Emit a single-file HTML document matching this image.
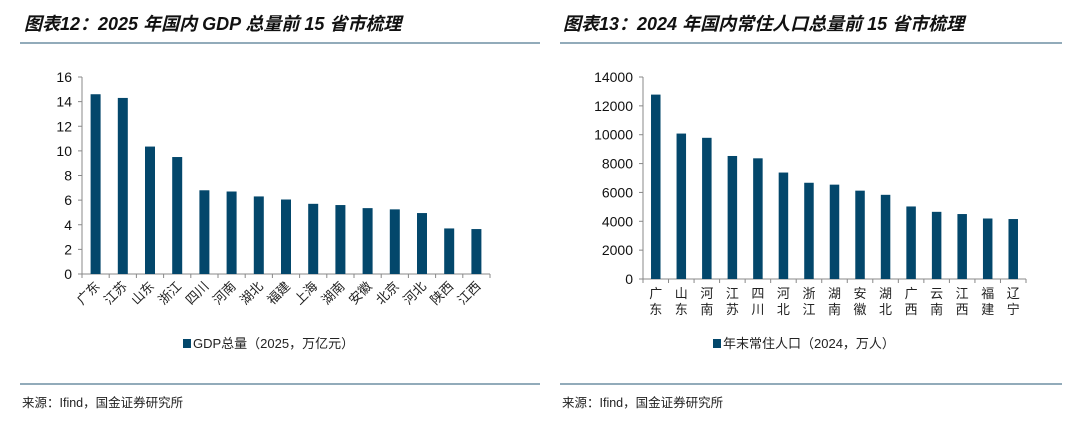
<!DOCTYPE html>
<html><head><meta charset="utf-8"><style>
body{margin:0;background:#fff;width:1080px;height:426px;overflow:hidden;font-family:"Liberation Sans","Noto Sans CJK SC",sans-serif}
</style></head><body>
<svg id="s" width="1080" height="426" xmlns="http://www.w3.org/2000/svg">
<text x="24" y="30" font-size="18" font-weight="bold" font-style="italic" fill="#111" font-family="Liberation Sans,Noto Sans CJK SC,sans-serif">图表12：2025 年国内 GDP 总量前 15 省市梳理</text>
<text x="563" y="30" font-size="18" font-weight="bold" font-style="italic" fill="#111" font-family="Liberation Sans,Noto Sans CJK SC,sans-serif">图表13：2024 年国内常住人口总量前 15 省市梳理</text>
<line x1="20" y1="43" x2="540" y2="43" stroke="#6f8fa3" stroke-width="1.5"/>
<line x1="560" y1="43" x2="1062" y2="43" stroke="#6f8fa3" stroke-width="1.5"/>
<line x1="20" y1="384" x2="540" y2="384" stroke="#6f8fa3" stroke-width="1.5"/>
<line x1="560" y1="384" x2="1062" y2="384" stroke="#6f8fa3" stroke-width="1.5"/>
<text x="22" y="407" font-size="12.5" fill="#222">来源：Ifind，国金证券研究所</text>
<text x="562" y="407" font-size="12.5" fill="#222">来源：Ifind，国金证券研究所</text>
<g id="L"></g><g id="R"></g>
</svg>
<script>
const gdpCats=["广东","江苏","山东","浙江","四川","河南","湖北","福建","上海","湖南","安徽","北京","河北","陕西","江西"];
const gdpVals=[14.6,14.3,10.35,9.5,6.8,6.7,6.3,6.05,5.7,5.6,5.35,5.25,4.95,3.7,3.65];
const gdpTicks=[0,2,4,6,8,10,12,14,16];
const popCats=["广东","山东","河南","江苏","四川","河北","浙江","湖南","安徽","湖北","广西","云南","江西","福建","辽宁"];
const popVals=[12780,10080,9785,8526,8364,7378,6670,6539,6123,5834,5027,4655,4502,4193,4156];
const popTicks=[0,2000,4000,6000,8000,10000,12000,14000];
const NS="http://www.w3.org/2000/svg";
function mk(p,t,a){const e=document.createElementNS(NS,t);for(const k in a)e.setAttribute(k,a[k]);p.appendChild(e);return e;}
function chart(g,cats,vals,ticks,o){
  const max=ticks[ticks.length-1];
  const y=v=>o.y0-(v/max)*(o.y0-o.y1);
  const bw=(o.x1-o.x0)/cats.length;
  const ax=mk(g,'line',{x1:o.x0,y1:o.y1,x2:o.x0,y2:o.y0,stroke:'#888'});
  
  const bx=mk(g,'line',{x1:o.x0,y1:o.y0,x2:o.x1,y2:o.y0,stroke:'#888'});
  
  ticks.forEach(t=>{
    const tk=mk(g,'line',{x1:o.x0-4,x2:o.x0,y1:y(t),y2:y(t),stroke:'#888'});
    
    const tl=mk(g,'text',{x:o.x0-10,y:y(t)+5,'text-anchor':'end','font-size':14,fill:'#111'});
    tl.textContent=t;
    
  });
  for(let i=0;i<=cats.length;i++){
    const tk=mk(g,'line',{x1:o.x0+i*bw,x2:o.x0+i*bw,y1:o.y0,y2:o.y0+4,stroke:'#888'});
    
  }
  cats.forEach((c,i)=>{
    const cx=o.x0+(i+0.5)*bw;
    const r=mk(g,'rect',{x:cx-o.bar/2,y:y(vals[i]),width:o.bar,height:o.y0-y(vals[i]),fill:'#03476b'});
    
    let t;
    if(o.rot){
      t=mk(g,'text',{x:cx+5,y:o.y0+13,'text-anchor':'end','font-size':13,fill:'#222',transform:`rotate(-45 ${cx+5} ${o.y0+13})`});
      t.textContent=c;
    }else{
      t=mk(g,'text',{x:cx,y:o.y0+19,'text-anchor':'middle','font-size':13,fill:'#222'});
      [...c].forEach((ch,k)=>{const sp=mk(t,'tspan',{x:cx,dy:k?16:0});sp.textContent=ch;});
    }
    
  });
  const lg=mk(g,'g',{});
  
  mk(lg,'rect',{x:o.lx,y:339,width:8,height:9,fill:'#03476b'});
  const lt=mk(lg,'text',{x:o.lx+10,y:348,'font-size':13,fill:'#222'});lt.textContent=o.legend;
}
chart(document.getElementById('L'),gdpCats,gdpVals,gdpTicks,{x0:82,x1:490,y0:274,y1:77,bar:10,rot:true,lx:183,legend:'GDP总量（2025，万亿元）'});
chart(document.getElementById('R'),popCats,popVals,popTicks,{x0:643,x1:1026,y0:279,y1:77,bar:9.5,rot:false,lx:713,legend:'年末常住人口（2024，万人）'});
</script>
</body></html>
